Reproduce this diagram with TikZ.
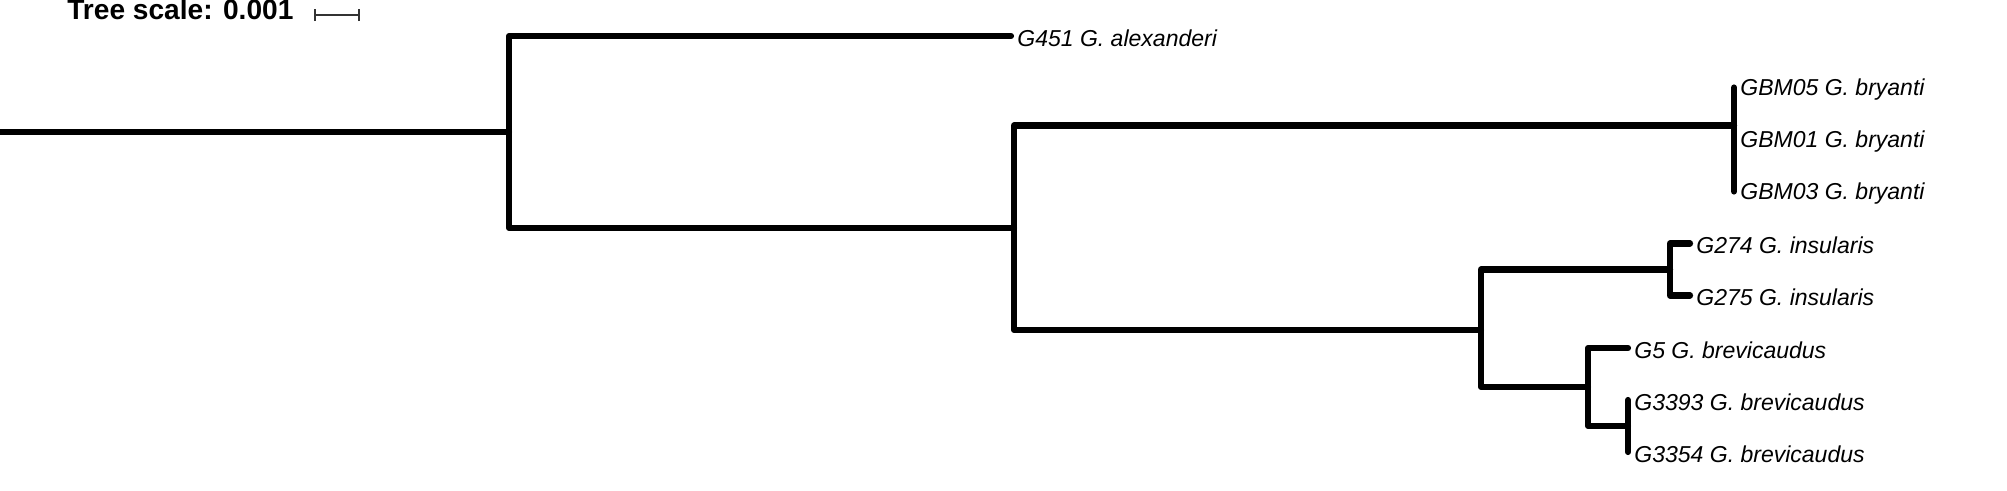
\documentclass[tikz,border=0pt]{standalone}
\usepackage{fontspec}
\setmainfont{Liberation Sans}
\usepackage{tikz}

\tikzset{
  branch/.style={line width=3.5pt, line cap=round, line join=round},
  leaf/.style={anchor=west, inner sep=0pt, xshift=6*0.02cm, yshift=-2*0.02cm, font=\fontsize{13.1}{15}\selectfont\itshape},
}

\begin{document}
\begin{tikzpicture}[x=0.02cm, y=-0.02cm]
    \useasboundingbox (0,0) rectangle (2007,490);

    % Scale
    \node[anchor=base west, inner sep=0pt, font=\fontsize{16}{18}\selectfont\bfseries] (scale) at (67,19) {Tree scale: 0.001};
    \coordinate (sbl) at (315,15);
    \coordinate (sbr) at (359,15);
    \draw[black!80, line width=0.7pt] (sbl) -- (sbr);
    \foreach \c in {sbl,sbr} \draw[black!80, line width=0.7pt] ([yshift=-6*0.02cm]\c) -- ([yshift=6*0.02cm]\c);

    % Internal nodes
    \coordinate (root) at (0,132);
    \coordinate (n1) at (509,132);
    \coordinate (n2) at (1014,228);
    \coordinate (n3) at (1734,125.5);
    \coordinate (n4) at (1481,330);
    \coordinate (n5) at (1670,269.5);
    \coordinate (n6) at (1588,387);
    \coordinate (n7) at (1628,426);

    % Leaf tips
    \coordinate (t451) at (1011,36);
    \coordinate (tbm05) at (1734,87.5);
    \coordinate (tbm01) at (1734,139.5);
    \coordinate (tbm03) at (1734,191.5);
    \coordinate (t274) at (1690,243.5);
    \coordinate (t275) at (1690,295.5);
    \coordinate (t5) at (1628,348);
    \coordinate (t3393) at (1628,400);
    \coordinate (t3354) at (1628,452);

    % Labels
    \node[leaf] (l451) at (t451) {G451 G. alexanderi};
    \node[leaf] (lbm05) at (tbm05) {GBM05 G. bryanti};
    \node[leaf] (lbm01) at (tbm01) {GBM01 G. bryanti};
    \node[leaf] (lbm03) at (tbm03) {GBM03 G. bryanti};
    \node[leaf] (l274) at (t274) {G274 G. insularis};
    \node[leaf] (l275) at (t275) {G275 G. insularis};
    \node[leaf] (l5) at (t5) {G5 G. brevicaudus};
    \node[leaf] (l3393) at (t3393) {G3393 G. brevicaudus};
    \node[leaf] (l3354) at (t3354) {G3354 G. brevicaudus};

    % Branches
    \draw[branch] (root) -- (n1);
    \draw[branch] (n1) |- (t451);
    \draw[branch] (n1) |- (n2);
    \draw[branch] (n2) |- (n3);
    \draw[branch] (n2) |- (n4);
    \foreach \t in {tbm05,tbm03} \draw[branch] (n3) |- (\t);
    \draw[branch] (n4) |- (n5);
    \draw[branch] (n4) |- (n6);
    \foreach \t in {t274,t275} \draw[branch] (n5) |- (\t);
    \draw[branch] (n6) |- (t5);
    \draw[branch] (n6) |- (n7);
    \foreach \t in {t3393,t3354} \draw[branch] (n7) |- (\t);
\end{tikzpicture}
\end{document}
